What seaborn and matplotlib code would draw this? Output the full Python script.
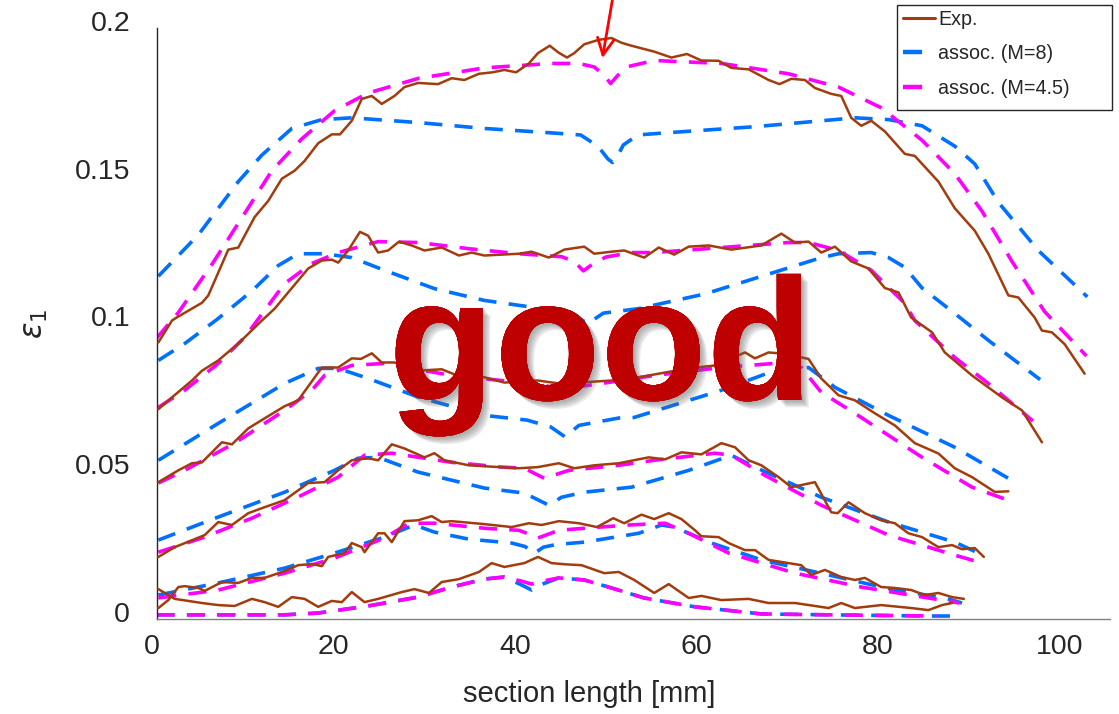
import numpy as np
import pandas as pd
import matplotlib
matplotlib.use("Agg")
import matplotlib.pyplot as plt
import matplotlib.patheffects as pe
from matplotlib.transforms import ScaledTranslation
from matplotlib.lines import Line2D
from matplotlib.patches import Rectangle
import seaborn as sns

# ---------------- data ----------------
EXP1_X = [0.2,1.7,2.2,5,5.7,7.9,9,10.8,12.3,13.8,15.2,16.3,17.8,19.3,20.2,21.5,22.6,23.7,24.8,26.2,27.3,28.8,31,32.5,33.9,35.5,37,38.3,39.6,41,42,43.3,44.3,45.2,46,47.1,48.7,50.1,51.2,52.3,54.8,56.7,58.4,60,61.9,63.3,65.2,67.4,68.6,69.9,71.4,72.5,74.3,75.4,76.5,77.6,78.7,80.2,82.4,83.5,86.1,87.9,90.1,91.6,93.8,94.9,96.7,97.5,98.6,100,102.2]
EXP1_Y = [0.0936,0.101,0.102,0.107,0.1095,0.125,0.1257,0.136,0.1415,0.149,0.1517,0.155,0.161,0.164,0.164,0.1686,0.176,0.177,0.1743,0.177,0.180,0.1814,0.181,0.183,0.1824,0.1845,0.185,0.1858,0.185,0.188,0.1915,0.194,0.1916,0.190,0.1915,0.1945,0.196,0.1966,0.195,0.194,0.192,0.190,0.1912,0.189,0.1889,0.1865,0.186,0.1824,0.181,0.1828,0.1824,0.1797,0.1777,0.177,0.1696,0.1669,0.1686,0.165,0.1574,0.1567,0.148,0.139,0.1314,0.1236,0.1095,0.1088,0.102,0.0976,0.097,0.093,0.083]
M8_1_X = [0.2,4.6,9.0,11.6,14.9,18.2,21.5,28.8,36.1,43.5,46.7,48.6,49.7,50.2,50.7,51.4,53.0,56,65.9,76.9,80.6,84.3,87.9,90.1,92.7,97.1,102.5]
M8_1_Y = [0.116,0.130,0.148,0.157,0.166,0.169,0.1696,0.168,0.166,0.1645,0.1638,0.160,0.1557,0.1545,0.1563,0.1604,0.1638,0.1645,0.1666,0.1696,0.169,0.1669,0.160,0.154,0.141,0.1247,0.109]
M45_1_X = [0,2.4,6.1,9.4,12.7,16,19.6,23.3,28.9,36.1,43.5,46.5,48.2,49.3,50.0,50.8,52.0,54.8,62.2,69.6,75.1,79.8,84.3,87.9,90.9,94.2,97.8,102.4]
M45_1_Y = [0.095,0.1037,0.120,0.1358,0.1517,0.1625,0.172,0.178,0.183,0.1865,0.188,0.188,0.1868,0.184,0.1812,0.184,0.187,0.189,0.188,0.1845,0.180,0.173,0.162,0.1507,0.138,0.121,0.104,0.089]

EXP2_X = [0.2,1.7,3.9,5,6.8,9,11.6,13,14.9,16.7,18.2,19.3,20,21.1,22.4,23.3,24.4,25.5,26.7,28.1,29.5,31.4,33.3,34.7,36.1,39.9,41.3,43.2,44.9,47.1,48.2,50.1,51.5,53.7,55.3,57,58.6,60.8,63.3,66.6,68.8,70.3,71.8,73.2,74.7,76.5,78.4,80.2,81.7,83.1,85.4,86.8,89.8,93.1,95.3,97.5]
EXP2_Y = [0.071,0.075,0.0807,0.084,0.0875,0.0932,0.101,0.105,0.112,0.1186,0.1213,0.1216,0.1206,0.1247,0.131,0.1297,0.124,0.1247,0.1277,0.1264,0.1247,0.1257,0.123,0.124,0.123,0.1236,0.1243,0.1223,0.125,0.126,0.1236,0.1243,0.1247,0.1223,0.1257,0.1233,0.126,0.1264,0.125,0.1264,0.1304,0.1274,0.1277,0.124,0.126,0.121,0.1186,0.112,0.1105,0.102,0.097,0.0902,0.0824,0.075,0.0706,0.0598]
M8_2_X = [0.2,3.1,6.8,10.5,13.4,15.6,18.5,21.5,25.1,30.6,36.1,41.6,45.5,47.5,49.2,53,60.4,67.7,72.9,75.1,78.7,80.6,82.4,84.3,87.9,91.6,97.3]
M8_2_Y = [0.0875,0.0932,0.1017,0.111,0.1196,0.1236,0.1236,0.1223,0.118,0.1118,0.1078,0.1054,0.1035,0.1,0.1035,0.105,0.110,0.117,0.122,0.1236,0.124,0.1223,0.119,0.112,0.1034,0.0943,0.081]
M45_2_X = [0.2,3.1,6.8,9.7,11.9,14.1,17.1,20,24.4,28.8,34.4,39.9,44.6,46.0,47.0,48.2,49.5,52.3,54.8,62.2,69.6,71.8,75.1,78.7,82.4,83.5,87.9,91.6,96.5]
M45_2_Y = [0.0716,0.0774,0.0865,0.0953,0.1044,0.1135,0.1203,0.124,0.1277,0.1274,0.1253,0.1236,0.1226,0.121,0.1178,0.1205,0.1225,0.124,0.124,0.1257,0.1274,0.1274,0.1247,0.118,0.1068,0.101,0.0885,0.0797,0.067]

EXP3_X = [0.2,2.4,3.9,5,7.2,8.3,10.1,11.9,14.1,15.6,18.2,20,21.5,22.5,23.7,24.8,26.2,29.2,31.4,33.6,36.1,38.3,42,44.3,46.5,50.1,53.1,56,58.6,61.5,64.8,65.9,67.4,68.5,70.3,71.8,73.2,75.1,76.9,79.1,81.3,83.5,86.1,87.9,89.8,92.3,93.8]
EXP3_Y = [0.0463,0.0503,0.0527,0.053,0.0598,0.0591,0.0645,0.0679,0.072,0.074,0.0851,0.0851,0.0882,0.088,0.0899,0.0868,0.0868,0.0841,0.0845,0.0818,0.0818,0.080,0.0807,0.0797,0.080,0.0807,0.0818,0.0834,0.0848,0.0858,0.0902,0.0882,0.0902,0.0899,0.089,0.088,0.0814,0.0757,0.074,0.0696,0.0655,0.0595,0.056,0.051,0.048,0.043,0.0432]
M8_3_X = [0.2,6.8,14.1,17.8,20,23.3,28.9,36.1,40.8,43.4,45.0,46.5,50.9,52.6,62.2,68.1,71.8,74.7,80.6,87.9,93.8]
M8_3_Y = [0.0537,0.0662,0.0797,0.0848,0.0848,0.0814,0.075,0.0689,0.0673,0.065,0.0616,0.0655,0.068,0.0682,0.0774,0.0841,0.0851,0.0784,0.0689,0.0581,0.0476]
M45_3_X = [0.2,3.1,8.6,14.1,17.1,18.5,21.5,25.1,32.5,38,42.5,44.9,46.2,49,54.8,62.2,68.1,71,73.2,76.9,84.3,89.8,93.5]
M45_3_Y = [0.046,0.0503,0.0595,0.0706,0.0774,0.0824,0.0858,0.0865,0.0824,0.0807,0.0795,0.0765,0.0785,0.0797,0.0824,0.0851,0.0865,0.0851,0.0767,0.0696,0.0547,0.0446,0.0405]

EXP4_X = [0.2,2,4.2,5.3,6.8,8.3,10.1,11.6,14.1,16.7,18.5,20,21.5,23.3,24.4,25.9,27.3,29.5,30.6,31.7,34.4,37.7,39.9,42,44.3,46,48.2,50.9,54.2,56,57.8,60,62.2,63.7,65.2,66.6,68.5,69.9,72.5,74.3,75,76.2,78,79.8,81.3,82.8,84.3,86.1,87.6,88.7,90.1,91.1]
EXP4_Y = [0.021,0.0243,0.027,0.0284,0.0328,0.0318,0.0358,0.0375,0.0402,0.046,0.0463,0.0503,0.0537,0.0544,0.0537,0.0591,0.0577,0.0547,0.0561,0.0537,0.052,0.0514,0.051,0.0514,0.0527,0.051,0.052,0.0527,0.0547,0.054,0.0564,0.0557,0.0595,0.0581,0.0537,0.052,0.048,0.0446,0.0463,0.0361,0.0358,0.0395,0.0358,0.0334,0.0324,0.029,0.0277,0.0243,0.025,0.0236,0.024,0.021]
M8_4_X = [0.2,6.8,14.1,19.6,22.2,24.4,28.8,36.1,40.5,43.2,44.6,47.1,52.3,58.6,63.3,65.9,73.2,80.6,87.9,90.5]
M8_4_Y = [0.0267,0.0345,0.0429,0.0503,0.0544,0.0547,0.0497,0.0443,0.0426,0.0385,0.0412,0.0429,0.0446,0.0503,0.0554,0.0514,0.0412,0.0328,0.026,0.0223]
M45_4_X = [0.2,5,10.5,16,20,22.9,25.9,32.5,38,40.5,42.7,45.4,50.9,54.8,61.5,63.3,67,73.2,80.6,87.9,90.5]
M45_4_Y = [0.0226,0.0274,0.0341,0.0419,0.048,0.0554,0.0561,0.053,0.0514,0.051,0.0476,0.0503,0.052,0.0537,0.0561,0.0554,0.0486,0.0385,0.0284,0.0216,0.0193]

EXP5_X = [0.2,1.3,2.4,3.1,4.6,5.3,7.2,9,10.5,11.9,14.1,15.6,17.1,18.2,18.9,20.7,21.5,22.6,22.9,24.4,25.1,25.9,27.3,28.8,30.3,31.4,32.5,36.1,39.1,41,42.4,44.3,46.5,48.5,50.3,51.5,53.4,54.8,56.4,57.8,59.3,60,61.9,63,64.8,65.9,67.4,68.8,71,72.1,73.6,75.4,76.9,78,79.8,81.3,83.1,84.6,86.1,87.6,88.9]
EXP5_Y = [0.0037,0.0064,0.0108,0.0111,0.0105,0.0095,0.0125,0.0122,0.0139,0.0139,0.0162,0.0182,0.0186,0.0179,0.021,0.0223,0.0257,0.0243,0.0226,0.029,0.029,0.026,0.0331,0.0334,0.0348,0.0328,0.0331,0.0321,0.0311,0.0324,0.0318,0.0331,0.0324,0.0311,0.0341,0.0324,0.0353,0.0338,0.0358,0.0338,0.030,0.028,0.0277,0.0257,0.0233,0.0233,0.020,0.0193,0.0182,0.0149,0.0166,0.0142,0.0132,0.0139,0.0108,0.0105,0.0098,0.0081,0.0088,0.0074,0.0068]
M8_5_X = [0.2,6.8,14.1,19.6,25.1,28.4,30.6,34.4,39.1,40.6,41.6,42.6,44.0,47.1,53.1,55.6,57,61.1,66.6,74,81.3,86.8,88.7]
M8_5_Y = [0.0081,0.0122,0.0172,0.0223,0.0277,0.0318,0.0294,0.027,0.0257,0.0245,0.0222,0.0243,0.0252,0.026,0.029,0.0318,0.0311,0.0257,0.020,0.0149,0.0098,0.0071,0.0054]
M45_5_X = [0.2,6.8,14.1,19.6,25.1,27.8,30.6,36.1,39.9,41.3,42,44.3,47.1,52,56,58.6,63,70.3,77.6,85,88.4]
M45_5_Y = [0.0071,0.0098,0.0155,0.0206,0.0274,0.0324,0.0324,0.0307,0.030,0.0284,0.0274,0.030,0.0307,0.0318,0.0324,0.029,0.0223,0.0155,0.0108,0.0071,0.0054]

EXP6_X = [0.2,1.3,2,5,6.8,8.6,10.5,11.9,13.4,14.9,16.3,17.8,19.3,20.4,21.5,22.9,24.4,27,28.4,30,31.4,33.3,35.5,36.9,38.3,40.5,42,43.5,45,46.8,49.3,50.9,52.6,54.8,56.4,58.6,60,62.2,65.2,67.4,70.3,72.5,74,75.4,76.9,79.8,83.1,85,86.5,87.6]
EXP6_Y = [0.0101,0.0081,0.0068,0.0054,0.0047,0.0044,0.0068,0.0057,0.0041,0.0074,0.0068,0.0041,0.0061,0.0057,0.0091,0.0057,0.0068,0.0091,0.0101,0.0088,0.0125,0.0135,0.0159,0.0189,0.0176,0.0189,0.021,0.0189,0.0185,0.0182,0.0155,0.0159,0.0132,0.0088,0.0118,0.0071,0.0078,0.0064,0.0068,0.0054,0.0054,0.0044,0.0037,0.0054,0.0037,0.0047,0.0037,0.003,0.0047,0.0054]
M8_6_X = [0,14.1,17.8,23.3,28.8,32.5,36.1,38.3,40.2,41.3,42.5,44.3,47.1,50.1,53.7,59.3,66.6,74,85,87.4]
M8_6_Y = [0.0014,0.0014,0.002,0.0044,0.0074,0.0108,0.0135,0.0142,0.0115,0.0098,0.0118,0.0139,0.0132,0.0105,0.0071,0.0041,0.0017,0.0014,0.001,0.001]
M45_6_X = [0,14.1,17.8,23.3,28.8,32.5,36.1,38.3,40.2,41.3,42.5,44.3,47.1,50.1,53.7,59.3,66.6,74,85.9]
M45_6_Y = [0.0014,0.0014,0.002,0.0044,0.0074,0.0108,0.0135,0.0142,0.0128,0.0118,0.0128,0.0139,0.0132,0.0105,0.0071,0.0041,0.0017,0.0014,0.001]

LEGEND_LABELS = ["Exp.", "assoc. (M=8)", "assoc. (M=4.5)"]
X_TICKS = [0, 20, 40, 60, 80, 100]
Y_TICKS = [0, 0.05, 0.1, 0.15, 0.2]
Y_TICK_LABELS = ["0", "0.05", "0.1", "0.15", "0.2"]

# ---------------- style ----------------
sns.set_theme(style="white")
plt.rcParams["font.family"] = ["Liberation Sans", "DejaVu Sans"]
plt.rcParams["mathtext.fontset"] = "dejavusans"

BROWN = "#A23C0C"
BLUE = "#0070FF"
MAGENTA = "#FF00FF"
AXC = "#262626"

fig = plt.figure(figsize=(11.19, 7.14), dpi=100)
ax = fig.add_axes([0.1399, 0.1331, 0.8521, 0.8277])

dash = (0, (5.0, 3.4))

curves = [
    (M8_1_X, M8_1_Y, BLUE, "dash"), (M45_1_X, M45_1_Y, MAGENTA, "dash"), (EXP1_X, EXP1_Y, BROWN, "solid"),
    (M8_2_X, M8_2_Y, BLUE, "dash"), (M45_2_X, M45_2_Y, MAGENTA, "dash"), (EXP2_X, EXP2_Y, BROWN, "solid"),
    (M8_3_X, M8_3_Y, BLUE, "dash"), (M45_3_X, M45_3_Y, MAGENTA, "dash"), (EXP3_X, EXP3_Y, BROWN, "solid"),
    (M8_4_X, M8_4_Y, BLUE, "dash"), (M45_4_X, M45_4_Y, MAGENTA, "dash"), (EXP4_X, EXP4_Y, BROWN, "solid"),
    (M8_5_X, M8_5_Y, BLUE, "dash"), (M45_5_X, M45_5_Y, MAGENTA, "dash"), (EXP5_X, EXP5_Y, BROWN, "solid"),
    (M8_6_X, M8_6_Y, BLUE, "dash"), (M45_6_X, M45_6_Y, MAGENTA, "dash"), (EXP6_X, EXP6_Y, BROWN, "solid"),
]

for xs, ys, col, kind in curves:
    df = pd.DataFrame({"x": xs, "y": ys})
    if kind == "dash":
        sns.lineplot(data=df, x="x", y="y", ax=ax, estimator=None, sort=False,
                     color=col, lw=2.6, linestyle=dash, zorder=2)
    else:
        sns.lineplot(data=df, x="x", y="y", ax=ax, estimator=None, sort=False,
                     color=col, lw=1.8, zorder=3)

ax.set_xlim(0, 105)
ax.set_ylim(0, 0.2)
ax.set_xticks(X_TICKS)
ax.set_xticklabels([str(v) for v in X_TICKS])
ax.set_yticks(Y_TICKS)
ax.set_yticklabels(Y_TICK_LABELS)

for s in ["top", "right"]:
    ax.spines[s].set_visible(False)
ax.spines["left"].set_color(AXC)
ax.spines["bottom"].set_color("#808080")
ax.spines["left"].set_linewidth(1.0)
ax.spines["bottom"].set_linewidth(1.0)
ax.tick_params(axis="both", direction="in", length=7, width=0.9, colors=AXC,
               labelsize=20.5, labelcolor="#262626")
ax.tick_params(axis="y", pad=19)
ax.tick_params(axis="x", pad=11)

ax.set_xlabel("section length [mm]", fontsize=21, color="#262626")
ax.set_ylabel(r"$\epsilon_1$", fontsize=22, color="#262626")
ax.xaxis.set_label_coords(0.454, -0.103)
ax.yaxis.set_label_coords(-0.112, 0.5)

# the big overlay word, with a soft drop shadow
shadow = [pe.withSimplePatchShadow(offset=(o, -o), shadow_rgbFace="#606060", alpha=0.12)
          for o in (1.5, 2.5, 3.5, 4.5, 5.5)]
ax.text(48.9, 0.0742, "good", ha="center", va="baseline", fontsize=125,
        fontweight="bold", color="#C00000", alpha=0.96, zorder=5,
        path_effects=shadow + [pe.Normal()])

# red arrow
ax.annotate("", xy=(49.1, 0.1898), xytext=(50.45, 0.2140), xycoords="data",
            arrowprops=dict(arrowstyle="->", color="red", lw=2.0, mutation_scale=30,
                            shrinkA=0, shrinkB=0),
            annotation_clip=False, zorder=6)

# legend box (MATLAB style: wider than its text) and entries
box = Rectangle((897 / 1119, 1 - 110 / 714), (1112 - 897) / 1119, 105 / 714,
                transform=fig.transFigure, facecolor="white", edgecolor=AXC,
                linewidth=1.0, zorder=20)
fig.add_artist(box)
handles = [
    Line2D([0], [0], color=BROWN, lw=2.2),
    Line2D([0], [0], color=BLUE, lw=3.2, linestyle=(0, (4.3, 9))),
    Line2D([0], [0], color=MAGENTA, lw=3.2, linestyle=(0, (4.3, 9))),
]
leg = fig.legend(handles, LEGEND_LABELS, loc="upper left",
                 bbox_to_anchor=(897 / 1119, 1 - 4 / 714),
                 borderaxespad=0, fontsize=14.2, frameon=False,
                 handlelength=1.65, handletextpad=0.15,
                 labelspacing=0.78, borderpad=0.3)
leg.set_zorder(21)

fig.canvas.draw()
for lbl in ax.get_yticklabels():
    lbl.set_transform(lbl.get_transform() + ScaledTranslation(0, 7 / 100, fig.dpi_scale_trans))
for lbl in ax.get_xticklabels():
    lbl.set_transform(lbl.get_transform() + ScaledTranslation(-5 / 100, 0, fig.dpi_scale_trans))

fig.savefig("out.png", dpi=100)
